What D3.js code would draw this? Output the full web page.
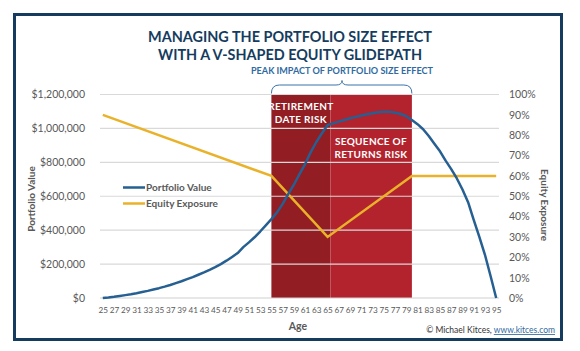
<!DOCTYPE html>
<html>
<head>
<meta charset="utf-8">
<script src="https://cdn.jsdelivr.net/npm/d3@7"></script>
<style>
  body { margin: 0; background: #fff; }
  svg { display: block; font-family: Lato, "Open Sans", sans-serif; }
  .axis text { fill: #595959; }
</style>
</head>
<body>
<svg width="580" height="351"></svg>
<script>
// ages on the x axis (one point per year)
var ages = [25,26,27,28,29,30,31,32,33,34,35,36,37,38,39,40,41,42,43,44,45,46,47,48,49,50,
  51,52,53,54,55,56,57,58,59,60,61,62,63,64,65,66,67,68,69,70,71,72,73,74,75,76,77,78,79,80,
  81,82,83,84,85,86,87,88,89,90,91,92,93,94,95];

// portfolio value ($)
var portfolioValue = [0,3000,7000,12000,17000,22000,28000,35000,42000,50000,58000,67000,77000,
  88000,99000,111000,123000,137000,151000,166000,182000,200000,220000,242000,265000,300000,
  328000,358000,392000,428000,465000,505000,555000,612000,668000,730000,790000,860000,920000,
  972000,1020000,1030000,1040000,1050000,1060000,1068000,1076000,1083000,1090000,1095000,
  1098000,1098000,1093000,1085000,1072000,1050000,1025000,995000,955000,910000,865000,810000,
  760000,705000,640000,565000,460000,360000,255000,130000,0];

// equity exposure glidepath corners (age, share of equities)
var equityAges = [25, 55, 65, 80, 95];
var equityExposure = [0.90, 0.60, 0.30, 0.60, 0.60];

// shaded risk zones
var zoneStart = [55, 65.5];
var zoneEnd = [65.5, 80];
var zoneLabels = [["RETIREMENT", "DATE RISK"], ["SEQUENCE OF", "RETURNS RISK"]];

// tick labels
var valueTicks = [0, 200000, 400000, 600000, 800000, 1000000, 1200000];
var pctTicks = [0, 0.1, 0.2, 0.3, 0.4, 0.5, 0.6, 0.7, 0.8, 0.9, 1];
var ageTicks = [25,27,29,31,33,35,37,39,41,43,45,47,49,51,53,55,57,59,61,63,65,67,69,71,73,75,
  77,79,81,83,85,87,89,91,93,95];

var svg = d3.select("svg"),
    plotLeft = 100, plotRight = 499, plotTop = 94.5, plotBottom = 298;

var navy = "#153c5e", blue = "#265f91", gold = "#e9b22a", grey = "#595959";

var x = d3.scaleLinear().domain([24.5, 95.5]).range([plotLeft, plotRight]),
    y = d3.scaleLinear().domain([0, 1200000]).range([plotBottom, plotTop]),
    y2 = d3.scaleLinear().domain([0, 1]).range([plotBottom, plotTop]);

// frame
svg.append("rect")
    .attr("x", 14.5).attr("y", 14.5)
    .attr("width", 547).attr("height", 325)
    .attr("fill", "#fff").attr("stroke", navy).attr("stroke-width", 3);

// title
var title = ["MANAGING THE PORTFOLIO SIZE EFFECT", "WITH A V-SHAPED EQUITY GLIDEPATH"];
var titleW = [284, 264];
svg.selectAll(".title")
    .data(title)
    .enter().append("text")
    .attr("class", "title")
    .attr("x", 290)
    .attr("y", function (d, i) { return 42 + i * 18; })
    .attr("text-anchor", "middle")
    .attr("textLength", function (d, i) { return titleW[i]; })
    .attr("lengthAdjust", "spacingAndGlyphs")
    .attr("font-size", 15.5)
    .attr("font-weight", 700)
    .attr("fill", navy)
    .text(function (d) { return d; });

// risk zones
svg.selectAll(".zone")
    .data(zoneStart)
    .enter().append("rect")
    .attr("class", "zone")
    .attr("x", function (d) { return x(d); })
    .attr("y", plotTop)
    .attr("width", function (d, i) { return x(zoneEnd[i]) - x(d); })
    .attr("height", plotBottom - plotTop)
    .attr("fill", function (d, i) { return i == 0 ? "#921d22" : "#b3232e"; });

// gridlines
svg.selectAll(".grid")
    .data(valueTicks)
    .enter().append("line")
    .attr("class", "grid")
    .attr("x1", plotLeft).attr("x2", plotRight)
    .attr("y1", function (d) { return y(d); })
    .attr("y2", function (d) { return y(d); })
    .attr("stroke", function (d) { return d == 0 ? "#cfcfcf" : "#d9d9d9"; })
    .attr("stroke-width", 1.2);

// zone labels
zoneLabels.forEach(function (lines, i) {
    var cx = i == 0 ? (x(zoneStart[0]) + x(zoneEnd[0])) / 2 : 371;
    var y0 = i == 0 ? 110 : 145;
    lines.forEach(function (t, j) {
        svg.append("text")
            .attr("x", cx)
            .attr("y", y0 + j * 12.5)
            .attr("text-anchor", "middle")
            .attr("font-size", 10)
            .attr("font-weight", 700)
            .attr("letter-spacing", 0.3)
            .attr("fill", "#fff")
            .text(t);
    });
});

// brace over the zones
var b0 = x(zoneStart[0]), b1 = x(zoneEnd[1]), bm = 342, by = 85;
svg.append("path")
    .attr("d", "M" + b0 + "," + (plotTop - 1) + " Q" + b0 + "," + by + " " + (b0 + 8) + "," + by +
        " L" + (bm - 6) + "," + by + " Q" + bm + "," + by + " " + bm + "," + (by - 4.5) +
        " Q" + bm + "," + by + " " + (bm + 6) + "," + by +
        " L" + (b1 - 8) + "," + by + " Q" + b1 + "," + by + " " + b1 + "," + (plotTop - 1))
    .attr("fill", "none")
    .attr("stroke", "#3a74a8")
    .attr("stroke-width", 1);

svg.append("text")
    .attr("x", 342).attr("y", 74)
    .attr("text-anchor", "middle")
    .attr("textLength", 182)
    .attr("lengthAdjust", "spacingAndGlyphs")
    .attr("font-size", 9.5)
    .attr("font-weight", 700)
    .attr("fill", "#2f6aa1")
    .text("PEAK IMPACT OF PORTFOLIO SIZE EFFECT");

// axes
svg.append("g")
    .attr("class", "axis")
    .attr("transform", "translate(" + plotLeft + ",0)")
    .call(d3.axisLeft(y).tickValues(valueTicks).tickFormat(d3.format("$,")).tickSize(0).tickPadding(15))
    .call(function (g) { g.select(".domain").remove(); })
    .selectAll("text").attr("font-size", 10.5).attr("font-family", "Lato, sans-serif");

svg.append("g")
    .attr("class", "axis")
    .attr("transform", "translate(" + plotRight + ",0)")
    .call(d3.axisRight(y2).tickValues(pctTicks).tickFormat(d3.format(".0%")).tickSize(0).tickPadding(10))
    .call(function (g) { g.select(".domain").remove(); })
    .selectAll("text").attr("font-size", 10.5).attr("font-family", "Lato, sans-serif");

svg.append("g")
    .attr("class", "axis")
    .attr("transform", "translate(0," + plotBottom + ")")
    .call(d3.axisBottom(x).tickValues(ageTicks).tickFormat(d3.format("d")).tickSize(0).tickPadding(9))
    .call(function (g) { g.select(".domain").remove(); })
    .selectAll("text").attr("font-size", 8.2).attr("font-family", "Lato, sans-serif");

// axis titles
svg.append("text")
    .attr("transform", "translate(35,199) rotate(-90)")
    .attr("text-anchor", "middle")
    .attr("font-size", 10).attr("font-weight", 700).attr("fill", grey)
    .text("Portfolio Value");

svg.append("text")
    .attr("transform", "translate(541,205) rotate(90)")
    .attr("text-anchor", "middle")
    .attr("font-size", 10).attr("font-weight", 700).attr("fill", grey)
    .text("Equity Exposure");

svg.append("text")
    .attr("x", 298).attr("y", 330)
    .attr("text-anchor", "middle")
    .attr("font-size", 10.5).attr("font-weight", 700).attr("fill", grey)
    .text("Age");

var credit = svg.append("text")
    .attr("x", 555).attr("y", 333)
    .attr("text-anchor", "end")
    .attr("font-size", 8.5).attr("fill", "#333");
credit.append("tspan").text("\u00a9 Michael Kitces, ");
credit.append("tspan").attr("fill", "#2f6aa1").attr("text-decoration", "underline").text("www.kitces.com");

// lines
var valueLine = d3.line()
    .x(function (d, i) { return x(ages[i]); })
    .y(function (d) { return y(d); });

var equityLine = d3.line()
    .x(function (d, i) { return x(equityAges[i]); })
    .y(function (d) { return y2(d); });

svg.append("path")
    .datum(equityExposure)
    .attr("d", equityLine)
    .attr("fill", "none")
    .attr("stroke", gold)
    .attr("stroke-width", 2.5);

svg.append("path")
    .datum(portfolioValue)
    .attr("d", valueLine)
    .attr("fill", "none")
    .attr("stroke", blue)
    .attr("stroke-width", 2.5)
    .attr("stroke-linejoin", "round");

// legend
var legend = [["Portfolio Value", blue], ["Equity Exposure", gold]];
legend.forEach(function (d, i) {
    var ly = 187.5 + i * 16;
    svg.append("line")
        .attr("x1", 123).attr("x2", 145)
        .attr("y1", ly).attr("y2", ly)
        .attr("stroke", d[1]).attr("stroke-width", 2.5);
    svg.append("text")
        .attr("x", 146).attr("y", ly + 3.5)
        .attr("font-size", 10).attr("font-weight", 700).attr("fill", grey)
        .text(d[0]);
});
</script>
</body>
</html>
